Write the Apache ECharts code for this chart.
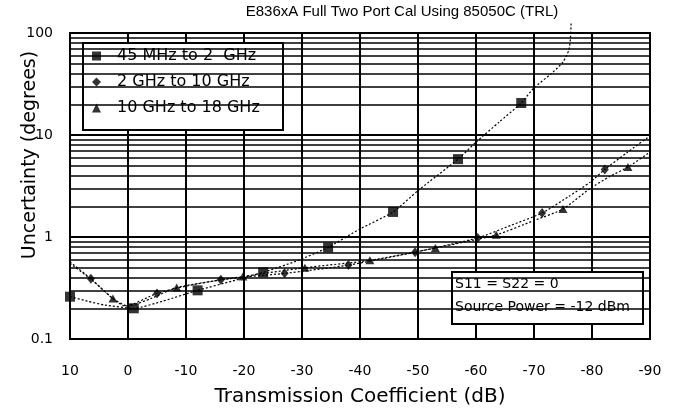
<!DOCTYPE html>
<html>
<head>
<meta charset="utf-8">
<script src="https://cdn.jsdelivr.net/npm/echarts@6/dist/echarts.min.js"></script>
<style>
  html, body { margin: 0; padding: 0; background: #fff; }
  #chart { width: 675px; height: 410px; }
</style>
</head>
<body>
<div id="chart"></div>
<script>
// x ticks (dB), drawn 10 .. -90 left to right
var xTicks = [10, 0, -10, -20, -30, -40, -50, -60, -70, -80, -90];
// minor log grid lines
var minorGrid = [0.2, 0.3, 0.4, 0.5, 0.6, 0.7, 0.8, 0.9,
                 2, 3, 4, 5, 6, 7, 8, 9,
                 20, 30, 40, 50, 60, 70, 80, 90];

// 45 MHz to 2 GHz
var sqMarks = [[10, 0.26], [-1, 0.2], [-12, 0.3], [-23.3, 0.45], [-34.5, 0.79],
               [-45.7, 1.76], [-56.9, 5.8], [-67.8, 20.6]];
var sqCurve = [[10, 0.26], [7, 0.235], [4, 0.215], [-1, 0.2], [-6, 0.235], [-12, 0.3],
               [-18, 0.37], [-23.3, 0.45], [-29, 0.58], [-34.5, 0.79], [-40, 1.2],
               [-45.7, 1.76], [-50, 2.85], [-56.9, 5.8], [-60, 8.5], [-64, 13.4],
               [-67.8, 20.6], [-70, 29], [-73, 40], [-75, 52], [-76, 68], [-76.3, 90],
               [-76.4, 125]];

// 2 GHz to 10 GHz
var dmMarks = [[6.4, 0.39], [-5, 0.28], [-16, 0.38], [-27, 0.44], [-38, 0.53],
               [-49.5, 0.71], [-60.3, 0.98], [-71.4, 1.72], [-82.2, 4.6]];
var dmCurve = [[10, 0.57], [6.4, 0.39], [3, 0.26], [0.5, 0.21], [-5, 0.28], [-10, 0.33],
               [-16, 0.38], [-21, 0.41], [-27, 0.44], [-38, 0.53], [-49.5, 0.71],
               [-60.3, 0.98], [-66, 1.3], [-71.4, 1.72], [-76, 2.5], [-79.7, 3.45],
               [-82.2, 4.6], [-86, 6.7], [-90, 9.8]];

// 10 GHz to 18 GHz
var trMarks = [[2.6, 0.25], [-8.4, 0.32], [-19.8, 0.41], [-30.5, 0.5], [-41.7, 0.59],
               [-53, 0.78], [-63.5, 1.05], [-75, 1.88], [-86.2, 4.85]];
var trCurve = [[10, 0.55], [6, 0.37], [2.6, 0.25], [0, 0.21], [-4, 0.25], [-8.4, 0.32],
               [-19.8, 0.41], [-30.5, 0.5], [-41.7, 0.59], [-53, 0.78], [-63.5, 1.05],
               [-70, 1.45], [-75, 1.88], [-79.7, 3.0], [-83, 3.9], [-86.2, 4.85], [-90, 6.8]];

var NARROW = '"Liberation Sans", Arial, sans-serif';
var WIDE = '"DejaVu Sans", sans-serif';

var chart = echarts.init(document.getElementById('chart'));

var curveStyle = { color: '#000', width: 1.2, type: [2, 2] };

var option = {
    animation: false,
    backgroundColor: '#fff',
    textStyle: { fontFamily: WIDE, color: '#000' },
    grid: {
        left: 70, right: 25, top: 33, bottom: 71,
        containLabel: false, outerBoundsMode: 'none',
        show: true, borderColor: '#000', borderWidth: 2, backgroundColor: 'transparent'
    },
    legend: {
        orient: 'vertical',
        left: 92, top: 47,
        padding: 0,
        itemWidth: 9, itemHeight: 9, itemGap: 8,
        z: 6,
        textStyle: { fontFamily: WIDE, fontSize: 16, color: '#000', lineHeight: 18, padding: [0, 0, 0, 11] },
        data: [
            { name: '45 MHz to 2  GHz', icon: 'rect' },
            { name: '2 GHz to 10 GHz', icon: 'diamond' },
            { name: '10 GHz to 18 GHz', icon: 'triangle' }
        ]
    },
    xAxis: {
        type: 'value',
        inverse: true,
        min: -90, max: 10, interval: 10,
        name: 'Transmission Coefficient (dB)',
        nameLocation: 'middle',
        nameGap: 48,
        nameTextStyle: { fontFamily: WIDE, fontSize: 20, color: '#000' },
        axisLine: { show: false },
        axisTick: { show: false },
        axisLabel: { margin: 25, fontSize: 14, color: '#000', fontFamily: WIDE },
        splitLine: { show: true, lineStyle: { color: '#000', width: 2 } }
    },
    yAxis: {
        type: 'log',
        logBase: 10,
        min: 0.1, max: 100,
        axisLine: { show: false },
        axisTick: { show: false },
        axisLabel: { margin: 17, fontSize: 14, color: '#000', fontFamily: WIDE },
        splitLine: { show: true, lineStyle: { color: '#000', width: 2 } }
    },
    graphic: [
        { type: 'text', left: 12, top: -19, z: 10,
          style: { text: 'Phase', font: 'bold 24px ' + NARROW, fill: '#000' } },
        { type: 'text', x: 402, y: 12, z: 10,
          style: { text: 'E836xA Full Two Port Cal Using 85050C (TRL)', font: '15px ' + NARROW,
                   fill: '#000', textAlign: 'center', textVerticalAlign: 'middle' } },
        { type: 'text', x: 30, y: 155, rotation: Math.PI / 2, z: 10,
          style: { text: 'Uncertainty (degrees)', font: '19px ' + WIDE,
                   fill: '#000', textAlign: 'center', textVerticalAlign: 'middle' } },
        { type: 'rect', z: 5, shape: { x: 83, y: 43, width: 200, height: 87 },
          style: { fill: '#fff', stroke: '#000', lineWidth: 2 } },
        { type: 'rect', z: 5, shape: { x: 452, y: 272, width: 191, height: 52 },
          style: { fill: '#fff', stroke: '#000', lineWidth: 2 } },
        { type: 'text', x: 455, y: 284, z: 6,
          style: { text: 'S11 = S22 = 0', font: '14px ' + WIDE, fill: '#000', textVerticalAlign: 'middle' } },
        { type: 'text', x: 455, y: 307, z: 6,
          style: { text: 'Source Power = -12 dBm', font: '14px ' + WIDE, fill: '#000', textVerticalAlign: 'middle' } }
    ],
    series: [
        {
            type: 'line', silent: true, symbol: 'none', data: [],
            markLine: {
                silent: true, symbol: 'none', label: { show: false },
                lineStyle: { color: '#000', width: 1.5, type: 'solid' },
                data: minorGrid.map(function (v) { return { yAxis: v }; })
            }
        },
        { type: 'line', data: sqCurve, symbol: 'none', smooth: 0.2, clip: false, lineStyle: curveStyle, z: 3 },
        { type: 'line', data: dmCurve, symbol: 'none', smooth: 0.2, lineStyle: curveStyle, z: 3 },
        { type: 'line', data: trCurve, symbol: 'none', smooth: 0.2, lineStyle: curveStyle, z: 3 },
        { name: '45 MHz to 2  GHz', type: 'scatter', data: sqMarks, symbol: 'rect', symbolSize: 10,
          itemStyle: { color: '#000' }, z: 4 },
        { name: '2 GHz to 10 GHz', type: 'scatter', data: dmMarks, symbol: 'diamond', symbolSize: [8, 10],
          itemStyle: { color: '#000' }, z: 4 },
        { name: '10 GHz to 18 GHz', type: 'scatter', data: trMarks, symbol: 'triangle', symbolSize: [9, 8],
          itemStyle: { color: '#000' }, z: 4 }
    ]
};

chart.setOption(option);
</script>
</body>
</html>
